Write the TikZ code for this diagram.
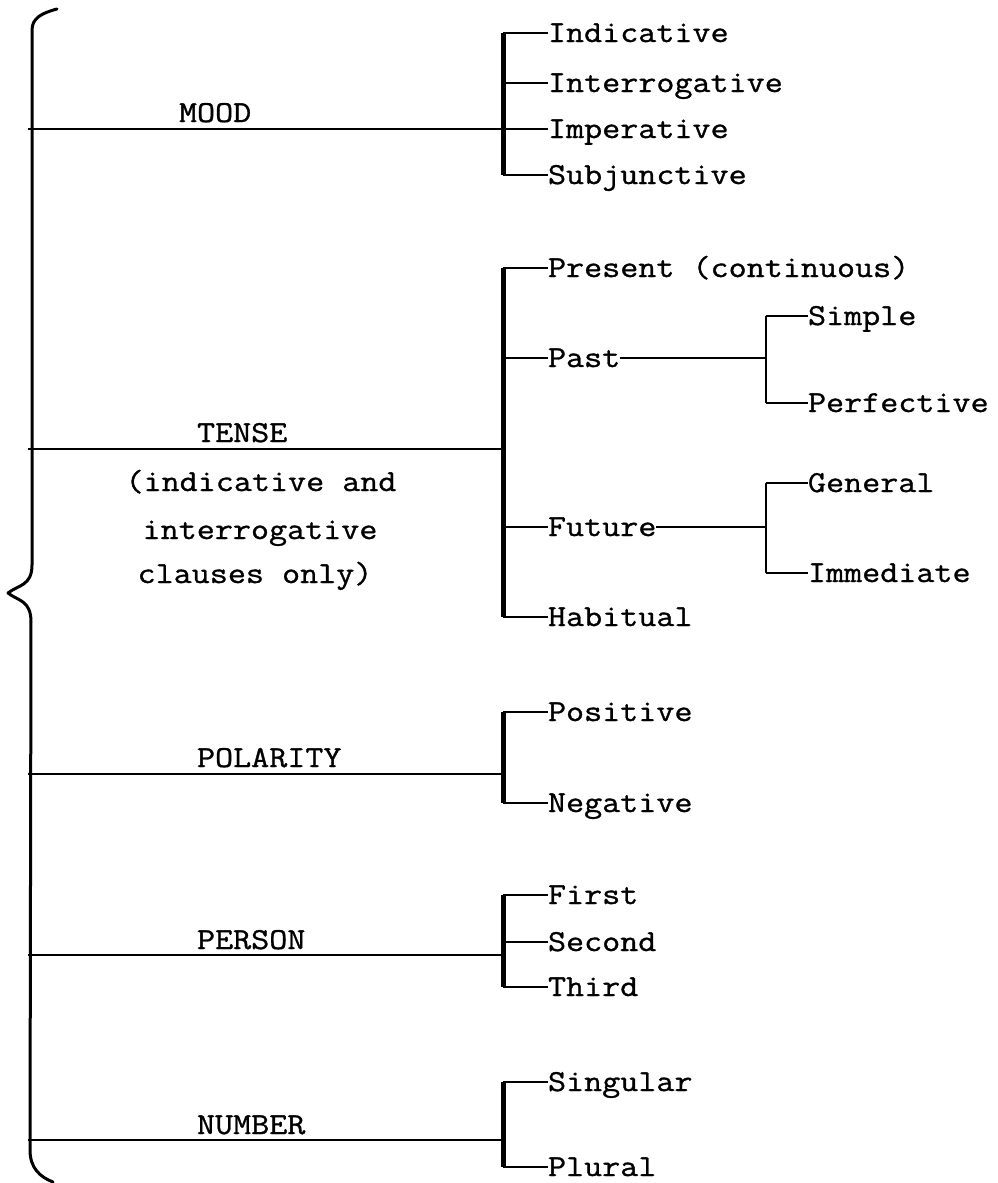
\documentclass[tikz,border=0pt]{standalone}
\usepackage{fontspec}
\newfontfamily\tw{Latin Modern Mono}[FakeStretch=1.15,FakeBold=1]
\begin{document}
\begin{tikzpicture}[x=1pt,y=-1pt,
  lab/.style={font=\tw\fontsize{30.5}{36}\selectfont, inner sep=0pt, outer sep=0pt, text height=18pt, text depth=0pt},
  opt/.style={lab, anchor=west},
  grp/.style={lab, anchor=south west},
  note/.style={lab, anchor=center},
  mainline/.style={line width=2.2pt},
  bracketline/.style={line width=5pt},
  tick/.style={line width=2.4pt},
  subbr/.style={line width=2.2pt},
  brace/.style={line width=3pt, line cap=round, line join=round}]
\useasboundingbox (0,0) rectangle (997,1183);

% ---------- brace ----------
\draw[brace] (57,9) .. controls (42,13) and (32,18) .. (32,30) -- (32,565)
  .. controls (32,586) and (18,585) .. (8,593)
  .. controls (18,601) and (31,600) .. (31,622) -- (30,1150)
  .. controls (30,1168) and (40,1177) .. (53,1182);

% ---------- MOOD ----------
\coordinate (mL) at (28,129);
\coordinate (mb1) at (503,33);
\coordinate (mb4) at (503,175);
\coordinate (mbj) at (503,129);
\node[grp] (mood) at (179,122) {MOOD};
\node[opt] (ind) at (548,33) {Indicative};
\node[opt] (intg) at (548,83) {Interrogative};
\node[opt] (imp) at (548,129) {Imperative};
\node[opt] (subj) at (548,175) {Subjunctive};
\draw[mainline] (mL) -- (mbj);
\draw[bracketline] (mb1) -- (mb4);
\foreach \n in {ind,intg,imp,subj} \draw[tick] (\n.west -| mb1) -- (\n.west);

% ---------- TENSE ----------
\coordinate (tL) at (28,449);
\coordinate (tb1) at (503,268);
\coordinate (tb2) at (503,617);
\coordinate (tbj) at (503,449);
\node[grp] (tense) at (197,442) {TENSE};
\node[note] (t1) at (261,482) {(indicative and};
\node[note] (t2) at (260,530) {interrogative};
\node[note] (t3) at (255,574) {clauses only)};
\node[opt] (pres) at (548,268) {Present (continuous)};
\node[opt] (past) at (548,358) {Past};
\node[opt] (fut) at (548,527) {Future};
\node[opt] (hab) at (548,617) {Habitual};
\draw[mainline] (tL) -- (tbj);
\draw[bracketline] (tb1) -- (tb2);
\foreach \n in {pres,past,fut,hab} \draw[tick] (\n.west -| tb1) -- (\n.west);

% Past sub-system
\coordinate (pb1) at (766,316);
\coordinate (pb2) at (766,403);
\coordinate (pbj) at (766,358);
\node[opt] (simp) at (808,316) {Simple};
\node[opt] (perf) at (808,403) {Perfective};
\draw[mainline] (past.east) -- (pbj);
\draw[subbr] (pb1) -- (pb2);
\foreach \n in {simp,perf} \draw[tick] (\n.west -| pb1) -- (\n.west);

% Future sub-system
\coordinate (fb1) at (766,483);
\coordinate (fb2) at (766,573);
\coordinate (fbj) at (766,527);
\node[opt] (gen) at (808,483) {General};
\node[opt] (immd) at (808,573) {Immediate};
\draw[mainline] (fut.east) -- (fbj);
\draw[subbr] (fb1) -- (fb2);
\foreach \n in {gen,immd} \draw[tick] (\n.west -| fb1) -- (\n.west);

% ---------- POLARITY ----------
\coordinate (poL) at (28,774);
\coordinate (pob1) at (503,712);
\coordinate (pob2) at (503,803);
\coordinate (pobj) at (503,774);
\node[grp] (polarity) at (197,767) {POLARITY};
\node[opt] (pos) at (548,712) {Positive};
\node[opt] (neg) at (548,803) {Negative};
\draw[mainline] (poL) -- (pobj);
\draw[bracketline] (pob1) -- (pob2);
\foreach \n in {pos,neg} \draw[tick] (\n.west -| pob1) -- (\n.west);

% ---------- PERSON ----------
\coordinate (peL) at (28,955);
\coordinate (peb1) at (503,895);
\coordinate (peb2) at (503,987);
\coordinate (pebj) at (503,955);
\node[grp] (person) at (197,949) {PERSON};
\node[opt] (first) at (548,895) {First};
\node[opt] (second) at (548,942) {Second};
\node[opt] (third) at (548,987) {Third};
\draw[mainline] (peL) -- (pebj);
\draw[bracketline] (peb1) -- (peb2);
\foreach \n in {first,second,third} \draw[tick] (\n.west -| peb1) -- (\n.west);

% ---------- NUMBER ----------
\coordinate (nuL) at (28,1140);
\coordinate (nub1) at (503,1082);
\coordinate (nub2) at (503,1167);
\coordinate (nubj) at (503,1140);
\node[grp] (number) at (197,1134) {NUMBER};
\node[opt] (sing) at (548,1082) {Singular};
\node[opt] (plur) at (548,1167) {Plural};
\draw[mainline] (nuL) -- (nubj);
\draw[bracketline] (nub1) -- (nub2);
\foreach \n in {sing,plur} \draw[tick] (\n.west -| nub1) -- (\n.west);
\end{tikzpicture}
\end{document}
